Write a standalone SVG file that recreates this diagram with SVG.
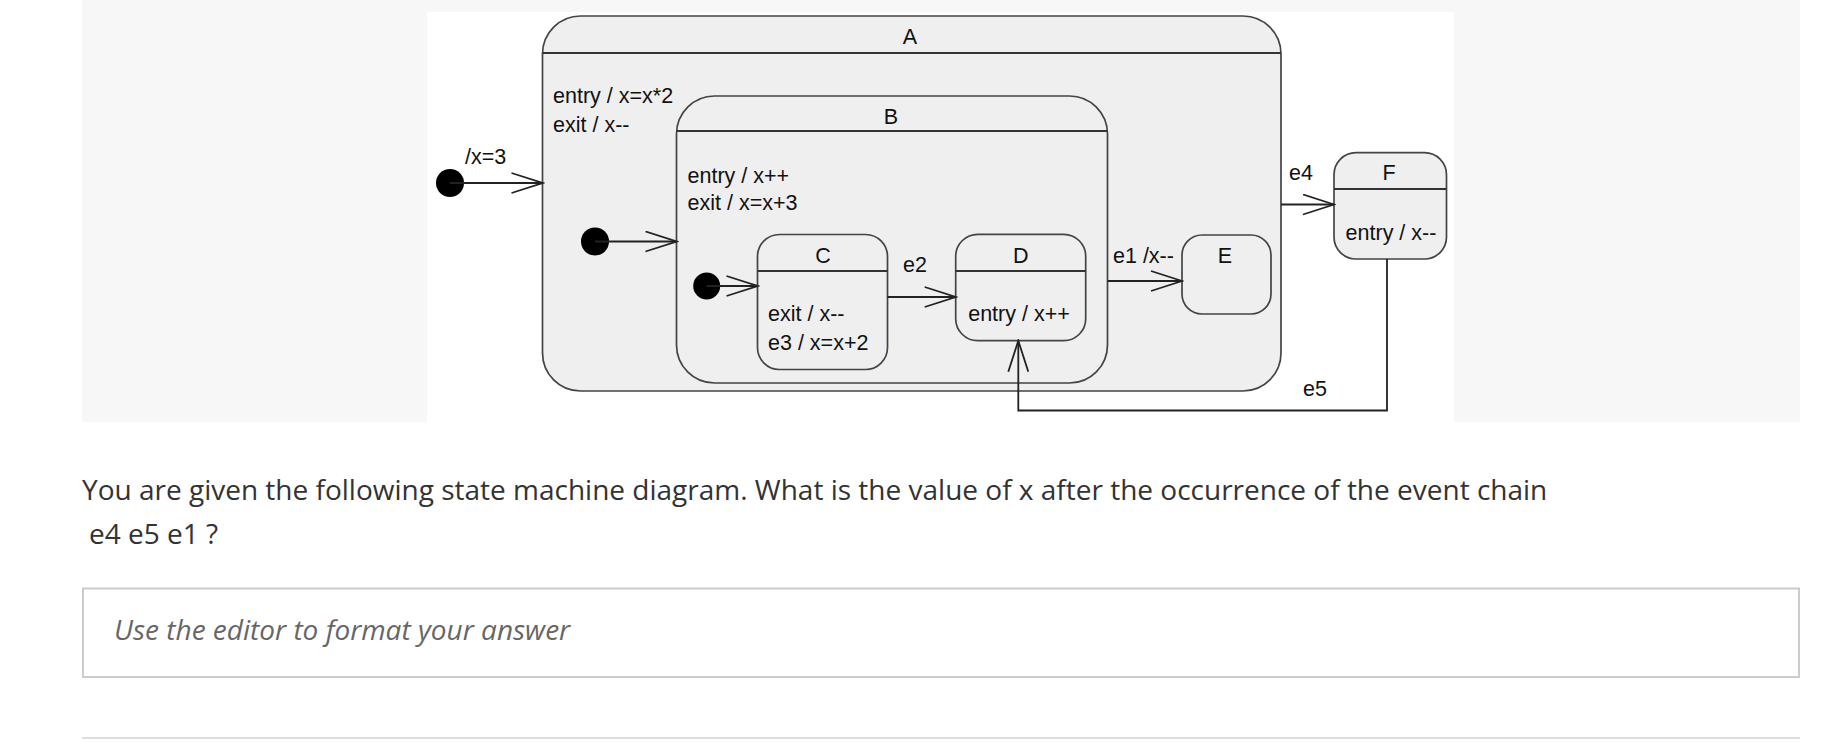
<svg xmlns="http://www.w3.org/2000/svg" width="1848" height="742" viewBox="0 0 1848 742">
<defs>
<style>
.st{fill:#efefef;stroke:#444;stroke-width:1.7}
.hd{stroke:#333;stroke-width:2}
.cn{fill:none;stroke:#222;stroke-width:1.8}
.dot{fill:#000}
.t{font-family:"Liberation Sans",Arial,sans-serif;font-size:21.5px;fill:#111}
.tc{text-anchor:middle}
.q{font-family:"Open Sans",sans-serif;font-size:28px;fill:#333}
.ph{font-family:"Open Sans",sans-serif;font-size:28px;font-style:italic;fill:#666}
</style>
<marker id="open" viewBox="-32 -11 34 22" refX="0" refY="0" markerWidth="34" markerHeight="22" markerUnits="userSpaceOnUse" orient="auto">
<path d="M-31,-10 L0,0 L-31,10" fill="none" stroke="#222" stroke-width="1.8"/>
</marker>
</defs>
<rect x="0" y="0" width="1848" height="742" fill="#fff"/>
<rect x="82" y="0" width="1718" height="422" fill="#f7f7f7"/>
<rect x="427" y="12" width="1027" height="410" fill="#fff"/>

<g id="A">
<rect class="st" x="542.5" y="16" width="738.5" height="375" rx="38"/>
<line class="hd" x1="542.5" y1="53" x2="1281" y2="53"/>
<text class="t tc" x="910" y="44">A</text>
<text class="t" x="553" y="103">entry / x=x*2</text>
<text class="t" x="553" y="132">exit / x--</text>
</g>
<g id="B">
<rect class="st" x="676.5" y="96" width="431" height="287" rx="38"/>
<line class="hd" x1="676.5" y1="131" x2="1107.5" y2="131"/>
<text class="t tc" x="891" y="123.5">B</text>
<text class="t" x="687.5" y="183">entry / x++</text>
<text class="t" x="687.5" y="210">exit / x=x+3</text>
</g>
<g id="C">
<rect class="st" x="757.5" y="234.5" width="130" height="135" rx="22"/>
<line class="hd" x1="757.5" y1="271" x2="887.5" y2="271"/>
<text class="t tc" x="823" y="262.5">C</text>
<text class="t" x="768" y="320.5">exit / x--</text>
<text class="t" x="768" y="350">e3 / x=x+2</text>
</g>
<g id="D">
<rect class="st" x="955.7" y="234.3" width="130" height="106.4" rx="22"/>
<line class="hd" x1="955.7" y1="271" x2="1085.7" y2="271"/>
<text class="t tc" x="1020.7" y="262.5">D</text>
<text class="t tc" x="1019" y="320.5">entry / x++</text>
</g>
<g id="E">
<rect class="st" x="1182" y="235" width="89" height="79" rx="20"/>
<text class="t tc" x="1225" y="262.5">E</text>
</g>
<g id="F">
<rect class="st" x="1334" y="152.7" width="112.5" height="106.3" rx="22"/>
<line class="hd" x1="1334" y1="189" x2="1446.5" y2="189"/>
<text class="t tc" x="1389" y="180">F</text>
<text class="t tc" x="1391" y="240">entry / x--</text>
</g>
<g id="init0"><circle class="dot" cx="450" cy="183" r="14"/></g>
<g id="initA"><circle class="dot" cx="595" cy="241.5" r="14"/></g>
<g id="initB"><circle class="dot" cx="706.7" cy="286" r="13.5"/></g>

<g id="connectors">
<line class="cn" x1="450" y1="183" x2="542.5" y2="183" marker-end="url(#open)"/>
<line class="cn" x1="595" y1="241.5" x2="676.5" y2="241.5" marker-end="url(#open)"/>
<line class="cn" x1="706.7" y1="286" x2="757.5" y2="286" marker-end="url(#open)"/>
<line class="cn" x1="887.5" y1="297" x2="955.7" y2="297" marker-end="url(#open)"/>
<line class="cn" x1="1107.5" y1="281" x2="1182" y2="281" marker-end="url(#open)"/>
<line class="cn" x1="1281" y1="204.5" x2="1334" y2="204.5" marker-end="url(#open)"/>
<polyline class="cn" points="1387,259 1387,410.5 1018.3,410.5 1018.3,340.7" marker-end="url(#open)"/>
<text class="t" x="465" y="164">/x=3</text>
<text class="t tc" x="915" y="272">e2</text>
<text class="t" x="1113" y="262.5">e1 /x--</text>
<text class="t tc" x="1301" y="180">e4</text>
<text class="t tc" x="1315" y="396">e5</text>
</g>

<g id="question">
<text class="q" x="82" y="500">You are given the following state machine diagram. What is the value of x after the occurrence of the event chain</text>
<text class="q" x="89" y="544">e4 e5 e1 ?</text>
</g>
<g id="answer">
<rect x="83" y="588.5" width="1716" height="88.5" fill="#fff" stroke="#ccc" stroke-width="2"/>
<text class="ph" x="114" y="640">Use the editor to format your answer</text>
</g>
<line x1="82" y1="738" x2="1800" y2="738" stroke="#ddd" stroke-width="2"/>
</svg>
